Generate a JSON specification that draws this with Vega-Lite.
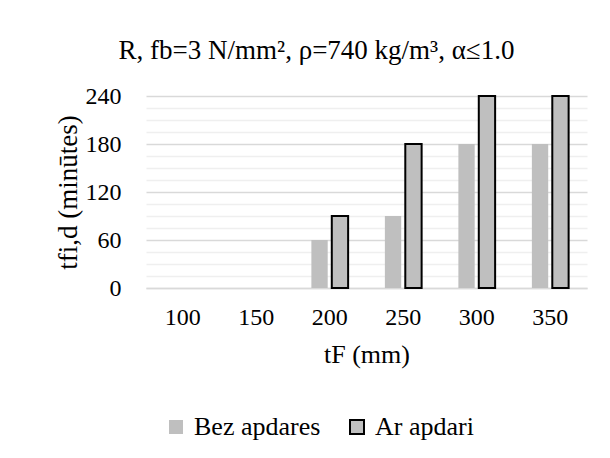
{
  "$schema": "https://vega.github.io/schema/vega-lite/v6.json",
  "width": 441,
  "height": 192,
  "autosize": {"type": "pad"},
  "padding": {"left": 54, "top": 37, "right": 20, "bottom": 10},
  "background": "white",
  "title": {
    "text": "R, fb=3 N/mm², ρ=740 kg/m³, α≤1.0",
    "font": "Liberation Serif",
    "fontSize": 27,
    "fontWeight": "normal",
    "color": "black",
    "anchor": "middle",
    "dx": -50,
    "offset": 19
  },
  "data": {
    "values": [
      {"tF": 100, "series": "Bez apdares", "t": 0},
      {"tF": 100, "series": "Ar apdari", "t": 0},
      {"tF": 150, "series": "Bez apdares", "t": 0},
      {"tF": 150, "series": "Ar apdari", "t": 0},
      {"tF": 200, "series": "Bez apdares", "t": 60},
      {"tF": 200, "series": "Ar apdari", "t": 90},
      {"tF": 250, "series": "Bez apdares", "t": 90},
      {"tF": 250, "series": "Ar apdari", "t": 180},
      {"tF": 300, "series": "Bez apdares", "t": 180},
      {"tF": 300, "series": "Ar apdari", "t": 240},
      {"tF": 350, "series": "Bez apdares", "t": 180},
      {"tF": 350, "series": "Ar apdari", "t": 240}
    ]
  },
  "mark": {"type": "bar", "strokeWidth": 2},
  "encoding": {
    "x": {
      "field": "tF",
      "type": "ordinal",
      "scale": {"paddingInner": 0.5, "paddingOuter": 0.25},
      "axis": {
        "title": "tF (mm)",
        "labelAngle": 0,
        "labelPadding": 17,
        "ticks": false,
        "domainColor": "#d9d9d9",
        "domainWidth": 1.5,
        "titlePadding": 12
      }
    },
    "xOffset": {
      "field": "series",
      "sort": ["Bez apdares", "Ar apdari"],
      "scale": {"paddingInner": 0.2}
    },
    "y": {
      "field": "t",
      "type": "quantitative",
      "scale": {"domain": [0, 240], "nice": false},
      "axis": {
        "title": "tfi,d (minūtes)",
        "titleFontSize": 27,
        "values": [0, 15, 30, 45, 60, 75, 90, 105, 120, 135, 150, 165, 180, 195, 210, 225, 240],
        "labelExpr": "datum.value % 60 === 0 ? datum.label : ''",
        "gridColor": {"condition": {"test": "datum.value % 60 === 0", "value": "#d9d9d9"}, "value": "#efefef"},
        "gridWidth": 1.5,
        "ticks": false,
        "domain": false,
        "labelPadding": 25,
        "titlePadding": 3
      }
    },
    "fill": {
      "field": "series",
      "type": "nominal",
      "sort": ["Bez apdares", "Ar apdari"],
      "scale": {"range": ["#bfbfbf", "#bfbfbf"]},
      "legend": {
        "title": null,
        "orient": "none",
        "legendX": 17,
        "legendY": 318,
        "direction": "horizontal",
        "symbolType": "square",
        "symbolSize": 196,
        "symbolStrokeWidth": 2,
        "labelFont": "Liberation Serif",
        "labelFontSize": 26,
        "labelFontWeight": "normal",
        "labelOffset": 5,
        "columnPadding": 23,
        "labelLimit": 300,
        "encode": {
          "symbols": {
            "update": {
              "stroke": {"signal": "datum.value === 'Ar apdari' ? 'black' : 'transparent'"},
              "fill": {"value": "#bfbfbf"}
            }
          }
        }
      }
    },
    "stroke": {
      "field": "series",
      "type": "nominal",
      "sort": ["Bez apdares", "Ar apdari"],
      "scale": {"range": ["transparent", "#000000"]},
      "legend": null
    },
    "strokeOpacity": {"condition": {"test": "datum.t > 0", "value": 1}, "value": 0}
  },
  "config": {
    "font": "Liberation Serif",
    "view": {"stroke": null},
    "axis": {
      "labelFont": "Liberation Serif",
      "labelFontSize": 24,
      "labelColor": "black",
      "titleFont": "Liberation Serif",
      "titleFontSize": 26,
      "titleFontWeight": "normal",
      "titleColor": "black"
    },
    "legend": {
      "labelFont": "Liberation Serif",
      "labelColor": "black"
    }
  }
}
